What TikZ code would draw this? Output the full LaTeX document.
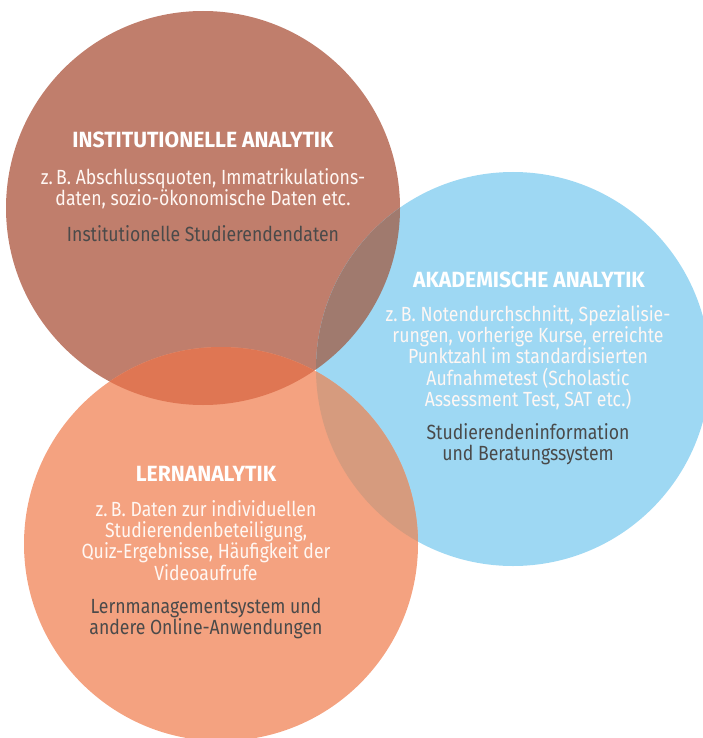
\documentclass[tikz,border=0pt]{standalone}
\usepackage{fontspec}
\setmainfont[FakeStretch=0.86]{Fira Sans}
\newfontfamily\titelfont[FakeStretch=0.96]{Fira Sans}
\usepackage{tikz}
\usetikzlibrary{positioning}
\definecolor{instbrown}{HTML}{C07E6C}
\definecolor{akadblue}{HTML}{9ED8F3}
\definecolor{lernorange}{HTML}{F4A280}
\definecolor{instlern}{HTML}{DF7653}
\definecolor{instakad}{HTML}{A07A6E}
\definecolor{akadlern}{HTML}{D69B7E}
\definecolor{textgrey}{HTML}{4A4A4A}
\definecolor{softwhite}{HTML}{FFF7F3}

\tikzset{
  kreis/.style={circle, minimum size=394pt, inner sep=0pt, outer sep=0pt},
  titel/.style={text=white, inner sep=0pt, anchor=base, font=\titelfont\bfseries\fontsize{22}{24}\selectfont},
  beispiel/.style={text=softwhite, inner sep=0pt, anchor=north, align=center, font=\fontsize{20.5}{21.3}\selectfont},
  system/.style={text=textgrey, inner sep=0pt, anchor=north, align=center, font=\fontsize{20.5}{21.3}\selectfont},
}

\begin{document}
\begin{tikzpicture}[x=1pt,y=-1pt]
				\useasboundingbox (0,0) rectangle (702,738);
				\node[kreis, fill=instbrown] (inst) at (203,208) {};
				\node[kreis, fill=akadblue] (akad) at (513,369) {};
				\node[kreis, fill=lernorange] (lern) at (221,544) {};
				% overlapping parts of the circles
				\begin{scope}
					\clip (inst.center) circle (197pt);
					\fill[instlern] (lern.center) circle (197pt);
				\end{scope}
				\begin{scope}
					\clip (inst.center) circle (197pt);
					\fill[instakad] (akad.center) circle (197pt);
				\end{scope}
				\begin{scope}
					\clip (akad.center) circle (197pt);
					\fill[akadlern] (lern.center) circle (197pt);
				\end{scope}
				\node[titel] (insttitel) at (203,148) {INSTITUTIONELLE ANALYTIK};
				\node[beispiel] (instbsp) at (203,168) {z.\,B. Abschlussquoten, Immatrikulations-\\daten, sozio-ökonomische Daten etc.};
				\node[system] (instsys) at (203,225) {Institutionelle Studierendendaten};
				\node[titel] (akadtitel) at (529,287) {AKADEMISCHE ANALYTIK};
				\node[beispiel] (akadbsp) at (528,305) {z.\,B. Notendurchschnitt, Spezialisie-\\rungen, vorherige Kurse, erreichte\\Punktzahl im standardisierten\\Aufnahmetest (Scholastic\\Assessment Test, SAT etc.)};
				\node[system] (akadsys) at (528,423) {Studierendeninformation\\und Beratungssystem};
				\node[titel] (lerntitel) at (206,481) {LERNANALYTIK};
				\node[beispiel] (lernbsp) at (206,500) {z.\,B. Daten zur individuellen\\Studierendenbeteiligung,\\Quiz-Ergebnisse, Häufigkeit der\\Videoaufrufe};
				\node[system] (lernsys) at (206,598) {Lernmanagementsystem und\\andere Online-Anwendungen};
			\end{tikzpicture}
\end{document}
